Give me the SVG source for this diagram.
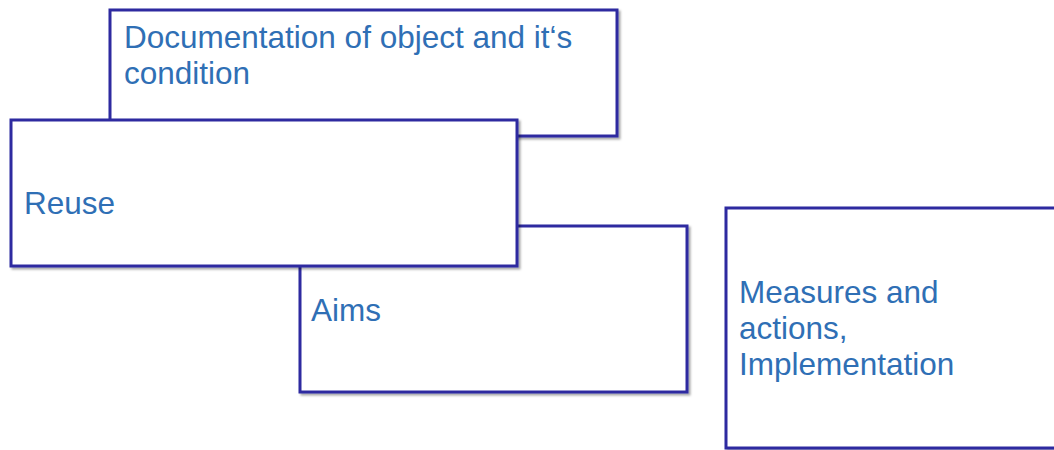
<svg xmlns="http://www.w3.org/2000/svg" width="1054" height="450" viewBox="0 0 1054 450">
  <defs>
    <filter id="shadow" x="-5%" y="-5%" width="115%" height="120%">
      <feDropShadow dx="2" dy="2" stdDeviation="1.2" flood-color="#000" flood-opacity="0.35"/>
    </filter>
  </defs>
  <style>
    .box { fill: #ffffff; stroke: #2e2aa0; stroke-width: 3; filter: url(#shadow); }
    .label { font-family: "Liberation Sans", Arial, sans-serif; font-size: 31.5px; fill: #2f6fb5; }
  </style>
  <rect width="1054" height="450" fill="#ffffff"/>

  <g id="connectors"></g>

  <!-- back card: documentation -->
  <g id="node-documentation">
    <rect class="box" x="110" y="10" width="507" height="126"/>
    <text class="label" x="124" y="48">Documentation of object and it‘s</text>
    <text class="label" x="124" y="84">condition</text>
  </g>

  <!-- lower card: aims -->
  <g id="node-aims">
    <rect class="box" x="300" y="226" width="387" height="166"/>
    <text class="label" x="311" y="321">Aims</text>
  </g>

  <!-- front card: reuse -->
  <g id="node-reuse">
    <rect class="box" x="11" y="120" width="506" height="146"/>
    <text class="label" x="24" y="214">Reuse</text>
  </g>

  <!-- separate card on the right -->
  <g id="node-measures">
    <rect class="box" x="726" y="208" width="340" height="240"/>
    <text class="label" x="739" y="303">Measures and</text>
    <text class="label" x="739" y="339">actions,</text>
    <text class="label" x="739" y="375">Implementation</text>
  </g>
</svg>
